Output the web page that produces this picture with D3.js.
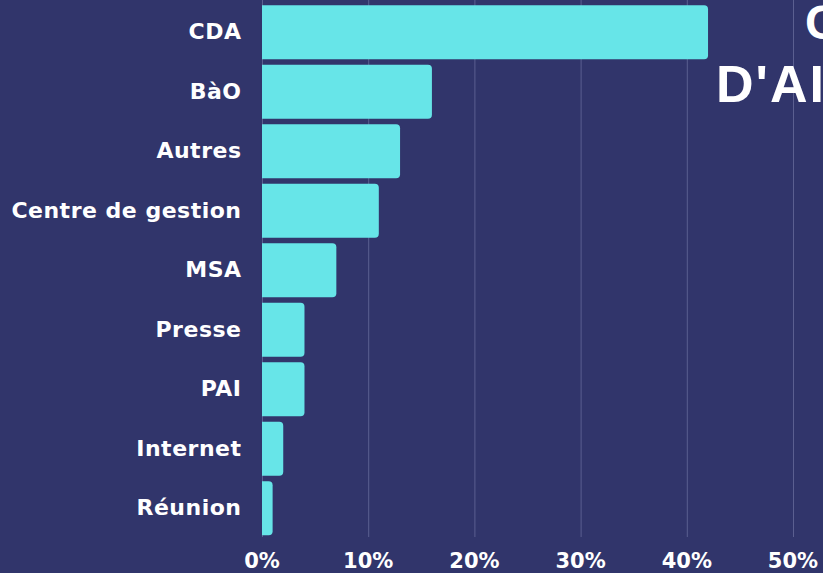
<!DOCTYPE html>
<html>
<head>
<meta charset="utf-8">
<script src="https://d3js.org/d3.v7.min.js"></script>
<style>
  html, body { margin: 0; padding: 0; background: #31356b; overflow: hidden; }
  * { font-family: "DejaVu Sans", sans-serif; }
</style>
</head>
<body>
<svg width="823" height="573"></svg>
<script>
// data
var categories = ["CDA", "BàO", "Autres", "Centre de gestion", "MSA", "Presse", "PAI", "Internet", "Réunion"];
var values = [42, 16, 13, 11, 7, 4, 4, 2, 1];
var tickValues = [0, 10, 20, 30, 40, 50];
var titleLines = ["CANAUX", "D'AIDE"];

var width = 823, height = 573;
var svg = d3.select("svg");

var x = d3.scaleLinear().domain([0, 50]).range([262, 793]);
var y = d3.scaleBand().domain(categories).range([2.5, 538]).paddingInner(0.09).paddingOuter(0.045);

// grid lines
svg.append("g")
  .selectAll("line")
  .data(tickValues)
  .enter().append("line")
  .attr("x1", function(d) { return x(d) + 0.5; })
  .attr("x2", function(d) { return x(d) + 0.5; })
  .attr("y1", 0)
  .attr("y2", 537)
  .attr("stroke", "#5b5f90")
  .attr("stroke-width", 1);

// title (runs off the right edge, as in the source)
svg.append("text")
  .attr("x", 805).attr("y", 39)
  .attr("fill", "white").style("font-family", "'Liberation Sans', sans-serif")
  .style("font-size", "48px").style("font-weight", "bold")
  .style("letter-spacing", "2px")
  .text(titleLines[0]);
svg.append("text")
  .attr("x", 716).attr("y", 102)
  .attr("fill", "white").style("font-family", "'Liberation Sans', sans-serif")
  .style("font-size", "52px").style("font-weight", "bold")
  .style("letter-spacing", "2px")
  .text(titleLines[1]);

// bars: square on the left, rounded on the right
function barPath(x0, x1, y0, h, r) {
  r = Math.min(r, (x1 - x0));
  return "M" + x0 + "," + y0 +
    "H" + (x1 - r) +
    "Q" + x1 + "," + y0 + " " + x1 + "," + (y0 + r) +
    "V" + (y0 + h - r) +
    "Q" + x1 + "," + (y0 + h) + " " + (x1 - r) + "," + (y0 + h) +
    "H" + x0 + "Z";
}

svg.append("g")
  .selectAll("path")
  .data(categories)
  .enter().append("path")
  .attr("d", function(d, i) { return barPath(x(0), x(values[i]), y(d), y.bandwidth(), 4); })
  .attr("fill", "#67e5e8");

// category labels
svg.append("g")
  .selectAll("text")
  .data(categories)
  .enter().append("text")
  .attr("x", 241.5)
  .attr("y", function(d) { return y(d) + y.bandwidth() / 2; })
  .attr("dy", "0.32em")
  .attr("text-anchor", "end")
  .attr("fill", "white")
  .style("font-size", "22px")
  .style("font-weight", "bold")
  .style("letter-spacing", "0.5px")
  .text(function(d) { return d; });

// x axis labels
svg.append("g")
  .selectAll("text")
  .data(tickValues)
  .enter().append("text")
  .attr("x", function(d) { return x(d); })
  .attr("y", 568)
  .attr("text-anchor", "middle")
  .attr("fill", "white")
  .style("font-size", "21px")
  .style("font-weight", "bold")
  .text(function(d) { return d + "%"; });
</script>
</body>
</html>
